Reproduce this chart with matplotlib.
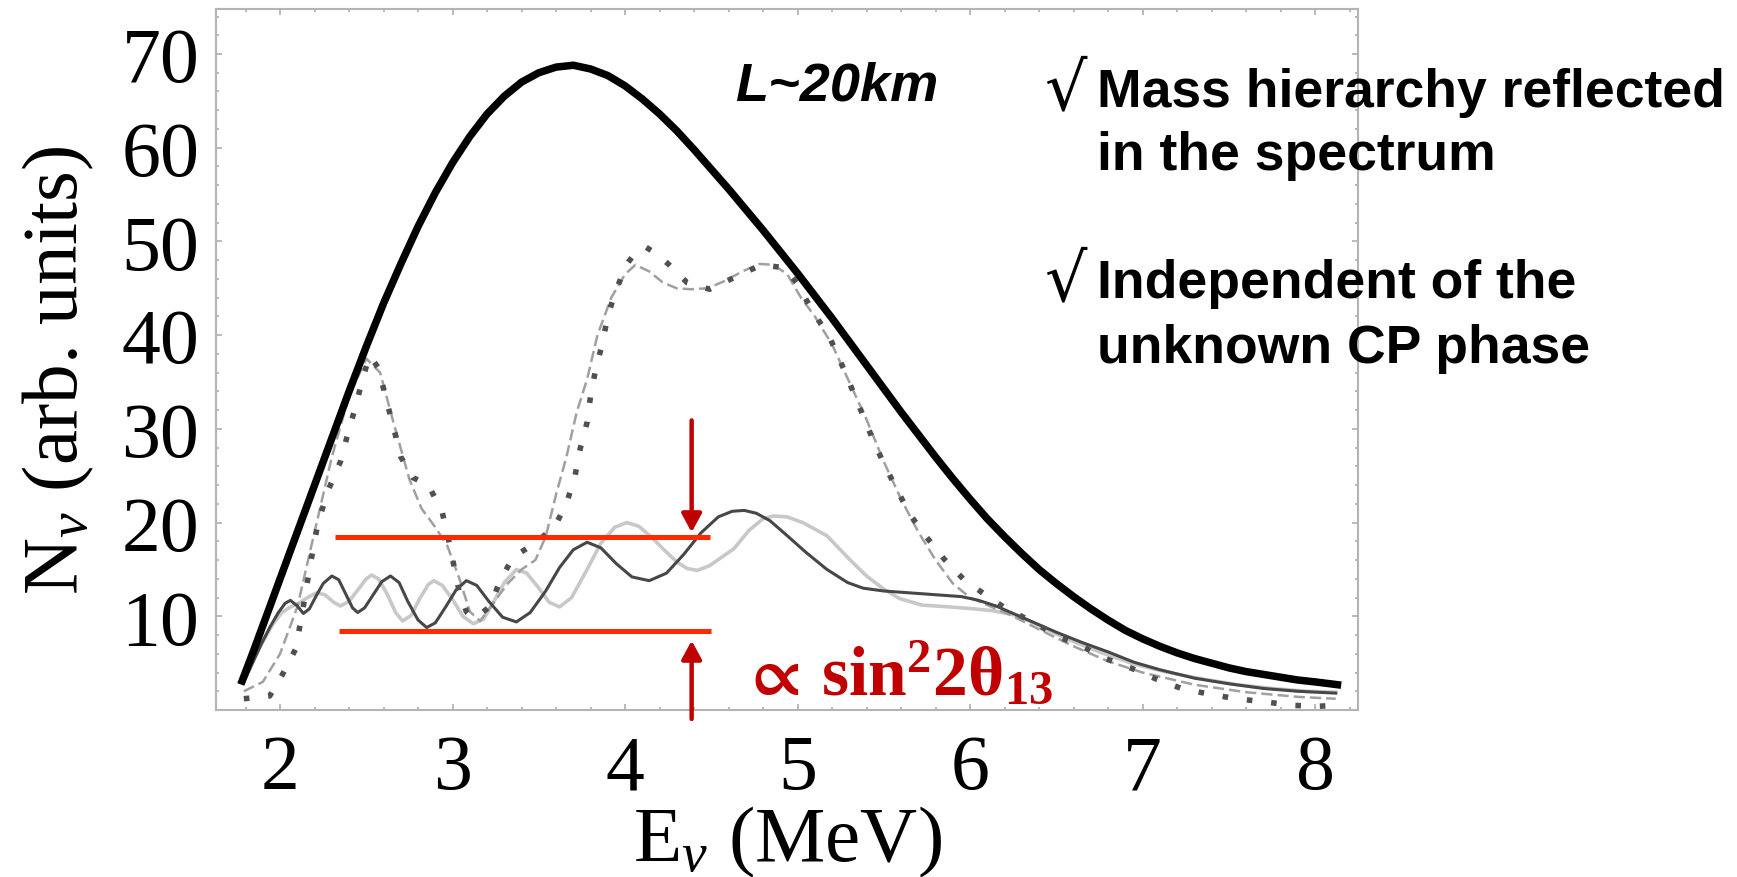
import numpy as np
import matplotlib
matplotlib.use("Agg")
import matplotlib.pyplot as plt
from matplotlib.ticker import MultipleLocator

plt.rcParams['mathtext.fontset'] = 'custom'
plt.rcParams['mathtext.rm'] = 'Liberation Serif'
plt.rcParams['mathtext.it'] = 'Liberation Serif:italic'
plt.rcParams['mathtext.bf'] = 'Liberation Serif:bold'
plt.rcParams['mathtext.fallback'] = 'stix'

# no-oscillation spectrum (thick black)
e_black = [1.78, 1.85, 1.90, 2.00, 2.10, 2.20, 2.30, 2.40, 2.50, 2.60, 2.70, 2.80,
           2.90, 3.00, 3.10, 3.20, 3.30, 3.40, 3.50, 3.60, 3.70, 3.80, 3.90, 4.00,
           4.10, 4.20, 4.30, 4.40, 4.50, 4.60, 4.70, 4.80, 4.90, 5.00, 5.10, 5.20,
           5.30, 5.40, 5.50, 5.60, 5.70, 5.80, 5.90, 6.00, 6.10, 6.20, 6.30, 6.40,
           6.50, 6.60, 6.70, 6.80, 6.90, 7.00, 7.10, 7.20, 7.30, 7.40, 7.50, 7.60,
           7.70, 7.80, 7.90, 8.00, 8.13]
n_black = [3.1, 6.5, 9.0, 14.0, 19.0, 24.0, 29.0, 34.0, 38.8, 43.4, 47.6, 51.6,
           55.2, 58.4, 61.2, 63.6, 65.5, 67.0, 68.0, 68.6, 68.8, 68.4, 67.7, 66.6,
           65.2, 63.6, 61.8, 59.8, 57.7, 55.6, 53.4, 51.2, 48.9, 46.6, 44.2, 41.8,
           39.3, 36.8, 34.3, 31.8, 29.4, 27.0, 24.7, 22.5, 20.4, 18.5, 16.7, 15.0,
           13.5, 12.1, 10.8, 9.6, 8.5, 7.6, 6.8, 6.1, 5.5, 5.0, 4.5, 4.1,
           3.8, 3.5, 3.2, 3.0, 2.7]

# oscillating spectrum, dark grey solid
e_dark = [1.79, 1.84, 1.89, 1.94, 1.99, 2.03, 2.06, 2.10, 2.135, 2.17, 2.21, 2.25,
          2.30, 2.34, 2.38, 2.42, 2.45, 2.49, 2.54, 2.59, 2.64, 2.69, 2.74, 2.80,
          2.85, 2.90, 2.96, 3.02, 3.08, 3.14, 3.21, 3.29, 3.37, 3.45, 3.54, 3.62,
          3.70, 3.78, 3.86, 3.95, 4.04, 4.14, 4.24, 4.34, 4.44, 4.54, 4.62, 4.69,
          4.76, 4.84, 4.94, 5.05, 5.17, 5.29, 5.38, 5.50, 5.65, 5.80, 5.95, 6.05,
          6.15, 6.25, 6.35, 6.50, 6.65, 6.80, 6.95, 7.10, 7.30, 7.50, 7.70, 7.90, 8.12]
n_dark = [3.0, 5.0, 7.0, 8.8, 10.4, 11.4, 11.7, 11.1, 10.3, 10.8, 12.2, 13.5,
          14.3, 13.9, 12.4, 10.9, 10.4, 10.9, 12.3, 13.7, 14.3, 13.6, 11.6, 9.6,
          8.8, 9.3, 11.0, 12.8, 13.8, 13.3, 11.6, 9.9, 9.4, 10.4, 12.7, 15.2,
          17.1, 17.9, 17.3, 15.6, 14.2, 13.8, 14.6, 16.6, 18.9, 20.6, 21.2, 21.3,
          21.0, 20.2, 18.6, 16.8, 15.0, 13.6, 13.0, 12.7, 12.5, 12.3, 12.1, 11.7,
          11.1, 10.3, 9.5, 8.3, 7.2, 6.2, 5.1, 4.3, 3.4, 2.8, 2.3, 2.0, 1.8]

# oscillating spectrum, light grey solid
e_light = [1.79, 1.85, 1.90, 1.96, 2.01, 2.06, 2.11, 2.16, 2.21, 2.26, 2.31, 2.35,
           2.40, 2.45, 2.50, 2.53, 2.57, 2.62, 2.67, 2.71, 2.76, 2.81, 2.86, 2.89,
           2.94, 3.00, 3.06, 3.12, 3.18, 3.24, 3.30, 3.37, 3.43, 3.50, 3.56, 3.62,
           3.69, 3.78, 3.86, 3.94, 4.01, 4.08, 4.15, 4.22, 4.30, 4.36, 4.42, 4.49,
           4.56, 4.63, 4.72, 4.80, 4.86, 4.94, 5.03, 5.17, 5.30, 5.40, 5.50, 5.59,
           5.72, 5.88, 6.02, 6.13, 6.27, 6.40, 6.56, 6.75, 6.95, 7.15, 7.35, 7.55,
           7.75, 7.95, 8.12]
n_light = [3.0, 5.5, 7.3, 9.2, 10.4, 11.0, 11.4, 12.0, 12.5, 12.3, 11.5, 11.1,
           11.6, 12.8, 14.0, 14.4, 14.0, 12.4, 10.4, 9.5, 10.1, 11.9, 13.4, 13.8,
           13.3, 11.8, 10.0, 9.2, 9.7, 11.6, 13.6, 15.0, 14.6, 13.0, 11.5, 11.0,
           12.0, 15.0, 17.8, 19.5, 20.0, 19.6, 18.5, 17.2, 15.8, 15.1, 14.9, 15.4,
           16.3, 17.2, 19.2, 20.4, 20.7, 20.6, 20.0, 18.6, 16.1, 14.3, 12.9, 11.9,
           11.2, 11.0, 10.8, 10.6, 10.1, 9.0, 7.6, 6.2, 4.9, 4.0, 3.3, 2.7,
           2.3, 2.0, 1.9]

# dark dotted curve
e_dot = [1.79, 1.94, 2.02, 2.09, 2.13, 2.17, 2.22, 2.28, 2.35, 2.40, 2.44, 2.48,
         2.52, 2.57, 2.62, 2.66, 2.70, 2.77, 2.86, 2.94, 2.98, 3.01, 3.04, 3.08,
         3.11, 3.16, 3.22, 3.27, 3.35, 3.47, 3.59, 3.66, 3.71, 3.74, 3.78, 3.80,
         3.83, 3.87, 3.90, 3.95, 4.01, 4.07, 4.12, 4.18, 4.25, 4.36, 4.49, 4.65,
         4.79, 4.92, 5.00, 5.07, 5.19, 5.26, 5.31, 5.38, 5.44, 5.51, 5.58, 5.65,
         5.75, 5.85, 5.96, 6.08, 6.21, 6.37, 6.50, 6.64, 6.77, 6.93, 7.08, 7.24,
         7.39, 7.54, 7.70, 7.86, 8.02, 8.12]
n_dot = [1.2, 1.5, 4.0, 6.5, 10.5, 15.0, 20.0, 23.5, 26.5, 30.0, 32.5, 35.5,
         37.8, 36.5, 32.8, 30.0, 27.0, 24.8, 24.0, 21.1, 17.9, 15.2, 12.5, 10.5,
         9.9, 10.2, 11.1, 13.6, 16.3, 17.7, 19.5, 22.0, 25.0, 27.9, 30.7, 33.5,
         36.4, 39.2, 42.1, 44.9, 47.6, 49.0, 49.4, 48.7, 47.6, 45.6, 44.9, 46.3,
         47.5, 47.2, 45.5, 43.1, 39.6, 36.7, 34.5, 31.4, 28.7, 25.9, 23.4, 20.9,
         18.4, 16.1, 14.0, 12.4, 10.8, 9.35, 7.9, 6.9, 5.6, 4.5, 3.3, 2.2,
         1.7, 1.2, 0.9, 0.5, 0.4, 0.5]

# light grey dashed curve
e_dash = [1.79, 1.90, 2.00, 2.10, 2.20, 2.30, 2.40, 2.50, 2.58, 2.66, 2.75, 2.82,
          2.90, 2.97, 3.04, 3.10, 3.16, 3.24, 3.32, 3.40, 3.48, 3.54, 3.60, 3.66,
          3.72, 3.78, 3.84, 3.92, 4.00, 4.06, 4.14, 4.22, 4.30, 4.38, 4.48, 4.58,
          4.68, 4.78, 4.86, 4.94, 5.02, 5.10, 5.20, 5.30, 5.40, 5.50, 5.60, 5.70,
          5.80, 5.90, 6.00, 6.10, 6.25, 6.40, 6.60, 6.80, 7.00, 7.30, 7.60, 7.90, 8.12]
n_dash = [2.0, 3.0, 6.0, 11.0, 19.0, 27.0, 33.5, 37.5, 36.0, 30.5, 24.6, 21.5,
          19.5, 17.5, 14.0, 10.5, 9.5, 11.5, 13.5, 15.0, 16.0, 18.5, 23.0, 27.0,
          31.8, 35.3, 40.0, 44.0, 46.5, 47.5, 46.8, 45.6, 45.0, 44.9, 45.0, 45.8,
          46.8, 47.6, 47.5, 46.5, 44.0, 42.0, 39.0, 35.0, 31.0, 26.5, 22.5, 19.0,
          16.0, 13.5, 12.0, 11.2, 10.0, 8.6, 6.8, 5.2, 4.0, 2.7, 1.9, 1.4, 1.2]

# amplitude markers
band_top = 18.5
band_bottom = 8.46
band_top_span = [2.32, 4.49]
band_bottom_span = [2.34, 4.50]
arrow_e = 4.386

fig = plt.figure(figsize=(17.37, 8.78), dpi=100)
ax = fig.add_axes([0.1244, 0.1902, 0.6574, 0.7984])

ax.plot(e_light, n_light, color='#c8c8c8', lw=2.6, zorder=2)
ax.plot(e_dash, n_dash, color='#a0a0a0', lw=1.8, linestyle=(0, (4.5, 2)), zorder=3)
ax.plot(e_dark, n_dark, color='#474747', lw=2.2, zorder=4)
ax.plot(e_dot, n_dot, color='#505050', lw=4.0, linestyle=(0, (1.0, 3.4)),
        dash_capstyle='butt', zorder=5)
ax.plot(e_black, n_black, color='black', lw=5.4, zorder=6)

ax.hlines(band_top, band_top_span[0], band_top_span[1], color='#ff2a00', lw=3.6, zorder=7)
ax.hlines(band_bottom, band_bottom_span[0], band_bottom_span[1], color='#ff2a00', lw=3.6, zorder=7)

head = dict(arrowstyle='-|>,head_length=0.55,head_width=0.3', color='#c00000',
            lw=3.2, mutation_scale=20, shrinkA=0, shrinkB=0)
ax.annotate('', xy=(arrow_e, 18.96), xytext=(arrow_e, 30.9), arrowprops=head, zorder=8)
ax.annotate('', xy=(arrow_e, 7.4), xytext=(arrow_e, -0.96), arrowprops=head,
            annotation_clip=False, zorder=8)

ax.set_xlim(1.629, 8.249)
ax.set_ylim(0, 74.8)
ax.set_xticks(range(2, 9))
ax.set_yticks(range(10, 80, 10))
ax.xaxis.set_minor_locator(MultipleLocator(0.2))
ax.yaxis.set_minor_locator(MultipleLocator(2))

for s in ax.spines.values():
    s.set_color('#b4b4b4')
    s.set_linewidth(1.5)
ax.tick_params(which='both', direction='in', top=True, right=True, color='#b4b4b4', width=1.3)
ax.tick_params(which='major', length=4.5)
ax.tick_params(which='minor', length=2.5)
ax.tick_params(axis='x', pad=17)
ax.tick_params(axis='y', pad=12)
for lab in ax.get_xticklabels() + ax.get_yticklabels():
    lab.set_fontfamily('Liberation Serif')
    lab.set_fontsize(56)

ax.set_xlabel(r'E$_{\nu}$ (MeV)', fontfamily='Liberation Serif', fontsize=57, va='baseline')
ax.xaxis.set_label_coords(0.5, -0.214)
ax.set_ylabel(r'N$_{\nu}$ (arb. units)', fontfamily='Liberation Serif', fontsize=57, va='center')
ax.yaxis.set_label_coords(-0.138, 0.486)

ax.text(5.229, 66.6, 'L~20km', fontfamily='Liberation Sans', fontweight='bold',
        fontstyle='italic', fontsize=39, ha='center', va='center')

ax.text(4.66, 1.71, r'$\mathbf{\propto\,sin^{2}2\theta_{13}}$', color='#c00000',
        fontsize=50, ha='left', va='baseline', zorder=9)

notes = [('\u221a', 'Mass hierarchy reflected', 107),
         ('', 'in the spectrum', 170),
         ('\u221a', 'Independent of the', 298),
         ('', 'unknown CP phase', 363)]
for mark, line, base in notes:
    if mark:
        fig.text(1044 / 1737, 1 - (base + 2) / 878, mark, fontfamily='DejaVu Sans',
                 fontsize=48, ha='left', va='baseline')
    fig.text(1097 / 1737, 1 - base / 878, line, fontfamily='Liberation Sans', fontweight='bold',
             fontsize=38.5, ha='left', va='baseline')

fig.savefig('out.png', dpi=100)
